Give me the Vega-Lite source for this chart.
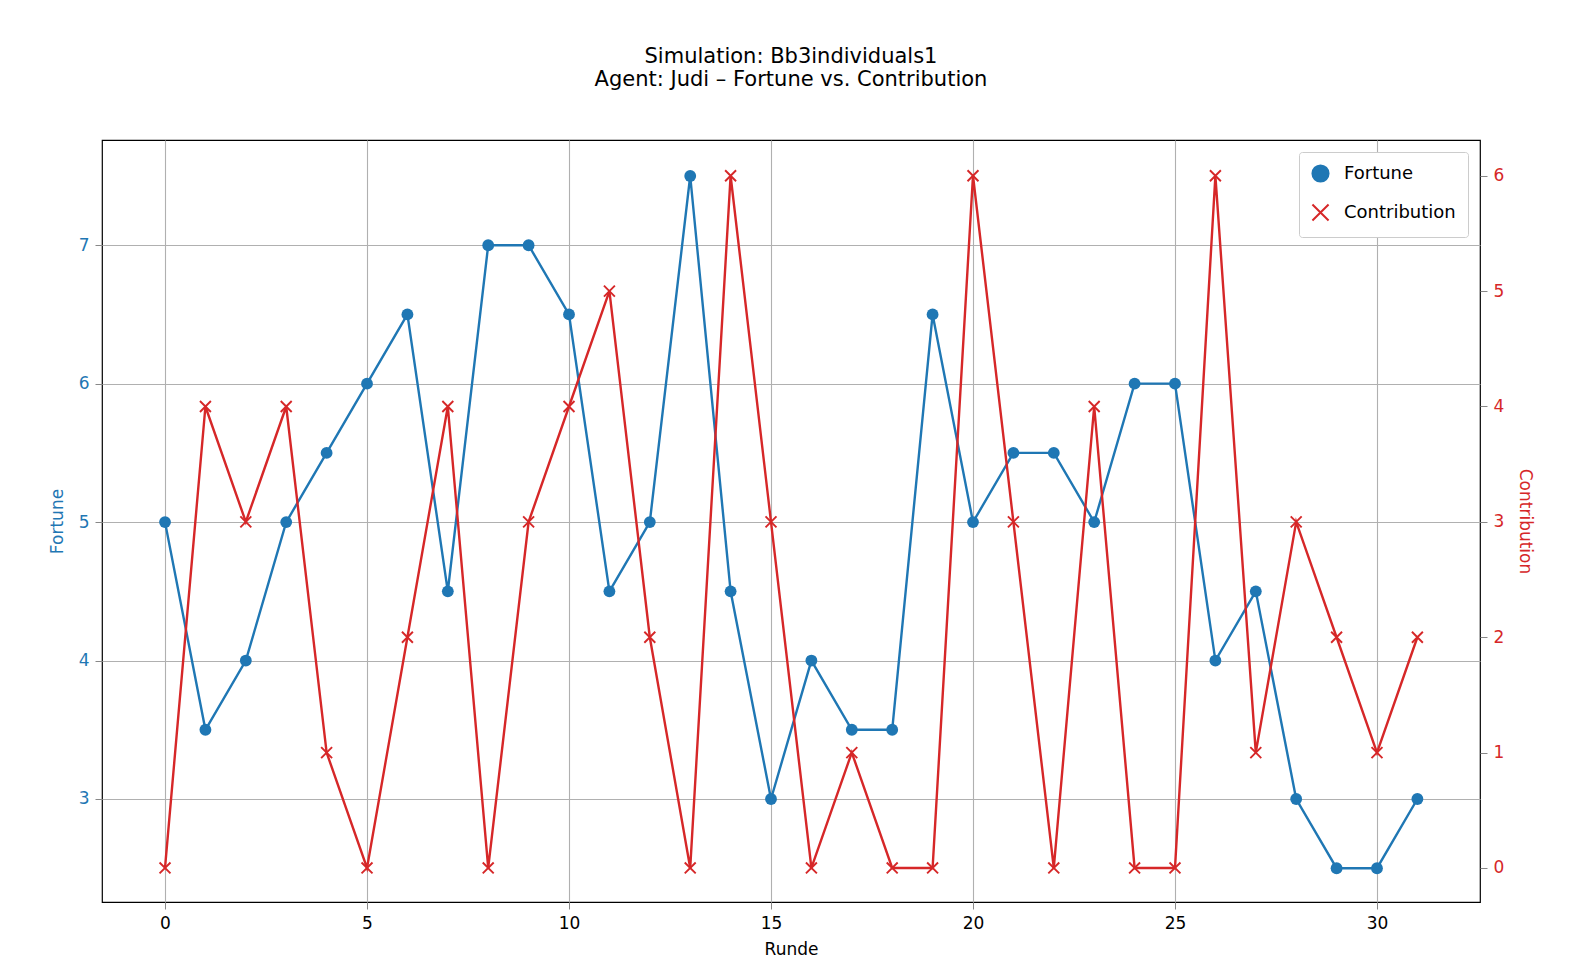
{
"$schema":"https://vega.github.io/schema/vega-lite/v6.json",
"width":1378,"height":762,
"padding":{"left":48,"top":46,"right":10,"bottom":5},
"background":"white",
"config":{"font":"DejaVu Sans","view":{"stroke":"black","strokeWidth":1.2},"title":{"anchor":"middle"},"axis":{"labelFontSize":17,"titleFontSize":17,"titleFontWeight":"normal","tickSize":7,"labelPadding":6,"domain":false,"gridColor":"#b0b0b0","gridWidth":1.1,"labelColor":"black","titleColor":"black"}},
"title":{"text":["Simulation: Bb3individuals1","Agent: Judi – Fortune vs. Contribution"],"fontSize":21,"fontWeight":"normal","offset":10,"dy":-40},
"data":{"values":[
{"r":0,"f":5,"c":0},{"r":1,"f":3.5,"c":4},{"r":2,"f":4,"c":3},{"r":3,"f":5,"c":4},{"r":4,"f":5.5,"c":1},{"r":5,"f":6,"c":0},{"r":6,"f":6.5,"c":2},{"r":7,"f":4.5,"c":4},{"r":8,"f":7,"c":0},{"r":9,"f":7,"c":3},{"r":10,"f":6.5,"c":4},{"r":11,"f":4.5,"c":5},{"r":12,"f":5,"c":2},{"r":13,"f":7.5,"c":0},{"r":14,"f":4.5,"c":6},{"r":15,"f":3,"c":3},{"r":16,"f":4,"c":0},{"r":17,"f":3.5,"c":1},{"r":18,"f":3.5,"c":0},{"r":19,"f":6.5,"c":0},{"r":20,"f":5,"c":6},{"r":21,"f":5.5,"c":3},{"r":22,"f":5.5,"c":0},{"r":23,"f":5,"c":4},{"r":24,"f":6,"c":0},{"r":25,"f":6,"c":0},{"r":26,"f":4,"c":6},{"r":27,"f":4.5,"c":1},{"r":28,"f":3,"c":3},{"r":29,"f":2.5,"c":2},{"r":30,"f":2.5,"c":1},{"r":31,"f":3,"c":2}
]},
"encoding":{"x":{"field":"r","type":"quantitative","title":"Runde","scale":{"domain":[-1.56,32.55],"nice":false,"zero":false},"axis":{"values":[0,5,10,15,20,25,30],"grid":true,"titlePadding":10}}},
"layer":[
{"layer":[
{"mark":{"type":"line","color":"#1f77b4","strokeWidth":2.4}},
{"mark":{"type":"point","filled":true,"opacity":1,"size":140}}
],
"encoding":{"y":{"field":"f","type":"quantitative","title":"Fortune","scale":{"domain":[2.256,7.76],"nice":false,"zero":false},"axis":{"values":[3,4,5,6,7],"grid":true,"labelColor":"#1f77b4","titleColor":"#1f77b4","titlePadding":12}},
"color":{"datum":"Fortune","type":"nominal","scale":{"domain":["Fortune","Contribution"],"range":["#1f77b4","#d62728"]},"legend":{"title":null,"orient":"top-right","labelFontSize":18,"symbolSize":260,"symbolStrokeWidth":2,"strokeColor":"#cccccc","fillColor":"white","padding":12,"offset":12,"cornerRadius":3,"rowPadding":14,"labelOffset":14}},
"shape":{"datum":"Fortune","type":"nominal","scale":{"domain":["Fortune","Contribution"],"range":["circle","M-1,-1L1,1M-1,1L1,-1"]}}}},
{"layer":[
{"mark":{"type":"line","color":"#d62728","strokeWidth":2.4}},
{"mark":{"type":"point","filled":false,"opacity":1,"size":120,"strokeWidth":1.9}}
],
"encoding":{"y":{"field":"c","type":"quantitative","title":"Contribution","scale":{"domain":[-0.295,6.31],"nice":false,"zero":false},"axis":{"orient":"right","values":[0,1,2,3,4,5,6],"grid":false,"labelColor":"#d62728","titleColor":"#d62728","titlePadding":12}},
"color":{"datum":"Contribution","type":"nominal"},
"shape":{"datum":"Contribution","type":"nominal"}}}
],
"resolve":{"scale":{"y":"independent"}}
}
